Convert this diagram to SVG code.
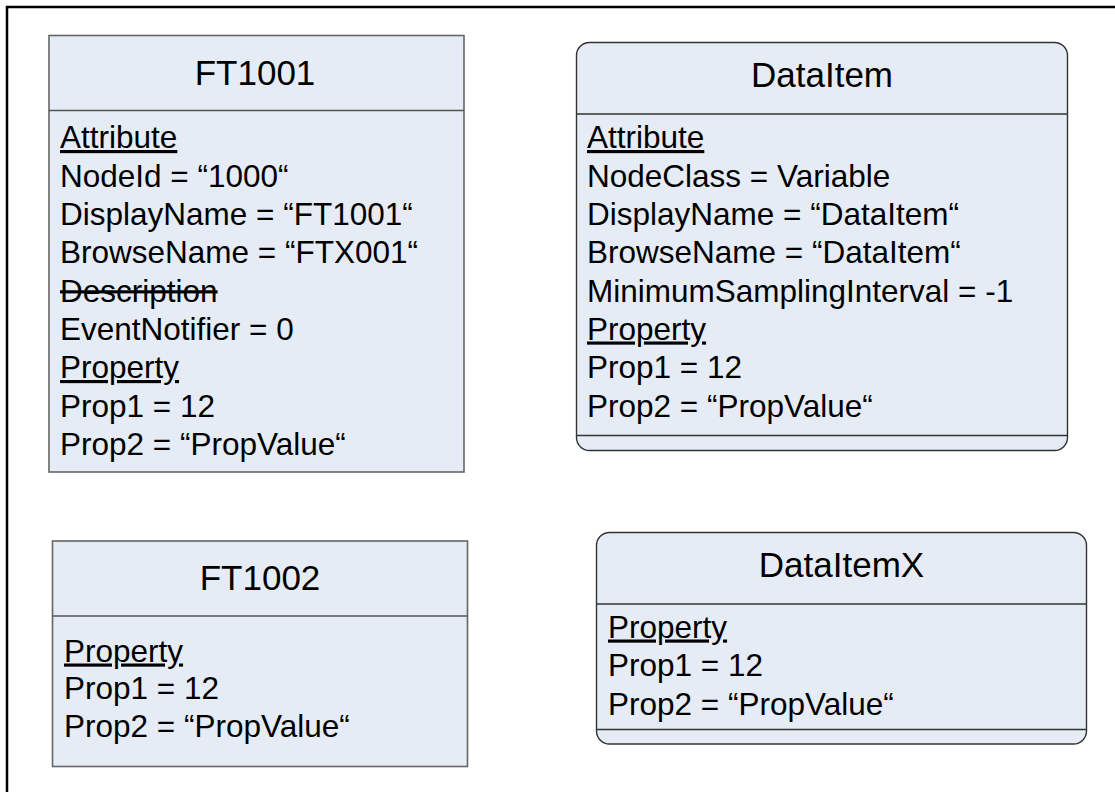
<svg xmlns="http://www.w3.org/2000/svg" width="1115" height="792" viewBox="0 0 1115 792">
<style>
.frame{fill:none;stroke:#000;stroke-width:2.5}
.box{fill:#E5ECF6;stroke:#666;stroke-width:1.6}
.rbox{fill:#E5ECF6;stroke:#333;stroke-width:1.4}
.div{stroke:#555;stroke-width:1.4}
.rdiv{stroke:#333;stroke-width:1.3}
.title{font-family:"Liberation Sans",Arial,sans-serif;font-size:35px;fill:#000;text-anchor:middle}
.t{font-family:"Liberation Sans",Arial,sans-serif;font-size:31.5px;fill:#000}
.u{text-decoration:underline}
.s{text-decoration:line-through}
</style>
<rect class="frame" x="7" y="7" width="1125" height="800"/>
<g id="connectors"></g>
<g id="FT1001">
<rect class="box" x="49" y="35.5" width="415" height="436.5"/>
<line class="div" x1="49" y1="110.5" x2="464" y2="110.5"/>
<text class="title" x="255" y="85">FT1001</text>
<text class="t u" x="60" y="148">Attribute</text>
<text class="t" x="60" y="186.5">NodeId = “1000“</text>
<text class="t" x="60" y="224.5">DisplayName = “FT1001“</text>
<text class="t" x="60" y="263">BrowseName = “FTX001“</text>
<text class="t s" x="60" y="301.5">Description</text>
<text class="t" x="60" y="339.5">EventNotifier = 0</text>
<text class="t u" x="60" y="378">Property</text>
<text class="t" x="60" y="416.5">Prop1 = 12</text>
<text class="t" x="60" y="455">Prop2 = “PropValue“</text>
</g>
<g id="DataItem">
<rect class="rbox" x="576.5" y="42.5" width="491" height="408" rx="13" ry="13"/>
<line class="rdiv" x1="576.5" y1="114" x2="1067.5" y2="114"/>
<line class="rdiv" x1="576.5" y1="435.5" x2="1067.5" y2="435.5"/>
<text class="title" x="822" y="87">DataItem</text>
<text class="t u" x="587" y="148">Attribute</text>
<text class="t" x="587" y="186.5">NodeClass = Variable</text>
<text class="t" x="587" y="224.5">DisplayName = “DataItem“</text>
<text class="t" x="587" y="263">BrowseName = “DataItem“</text>
<text class="t" x="587" y="301.5">MinimumSamplingInterval = -1</text>
<text class="t u" x="587" y="339.5">Property</text>
<text class="t" x="587" y="378">Prop1 = 12</text>
<text class="t" x="587" y="416.5">Prop2 = “PropValue“</text>
</g>
<g id="FT1002">
<rect class="box" x="52.5" y="541" width="415" height="225.5"/>
<line class="div" x1="52.5" y1="616" x2="467.5" y2="616"/>
<text class="title" x="260" y="590">FT1002</text>
<text class="t u" x="64" y="661.5">Property</text>
<text class="t" x="64" y="699">Prop1 = 12</text>
<text class="t" x="64" y="737">Prop2 = “PropValue“</text>
</g>
<g id="DataItemX">
<rect class="rbox" x="596.5" y="532.5" width="490" height="211.5" rx="13" ry="13"/>
<line class="rdiv" x1="596.5" y1="604" x2="1086.5" y2="604"/>
<line class="rdiv" x1="596.5" y1="729.5" x2="1086.5" y2="729.5"/>
<text class="title" x="841.5" y="577">DataItemX</text>
<text class="t u" x="608" y="637.5">Property</text>
<text class="t" x="608" y="676">Prop1 = 12</text>
<text class="t" x="608" y="714.5">Prop2 = “PropValue“</text>
</g>
</svg>
